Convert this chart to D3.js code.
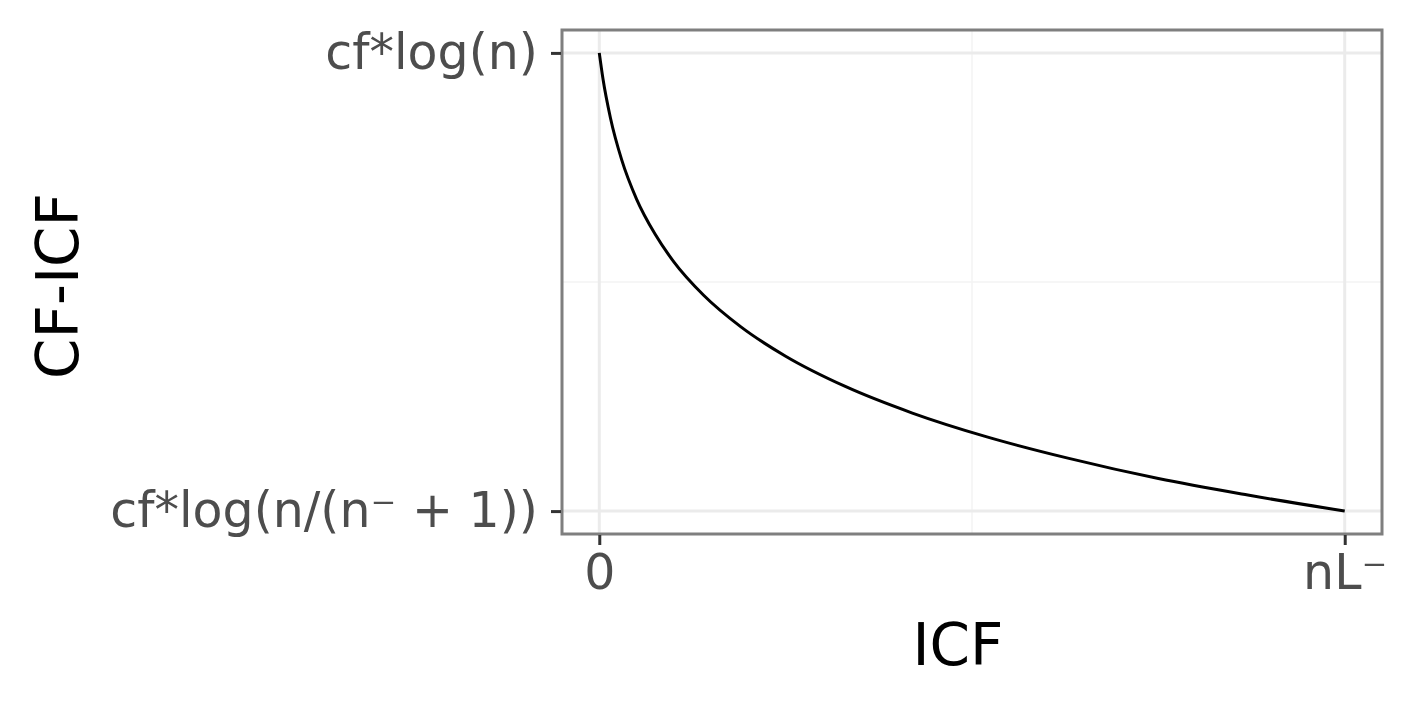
<!DOCTYPE html>
<html>
<head>
<meta charset="utf-8">
<script src="https://cdn.jsdelivr.net/npm/d3@7"></script>
<style>
  body { margin: 0; background: #fff; }
  text { font-family: "DejaVu Sans", sans-serif; }
</style>
</head>
<body>
<div id="chart"></div>
<script>
// curve: icf (0 .. nL-, scaled 0..1), cf-icf (0 = bottom tick, 1 = top tick)
var icf =   [0, 0.005, 0.015, 0.03, 0.05, 0.075, 0.1, 0.14, 0.19, 0.25, 0.33, 0.42, 0.52, 0.63, 0.75, 0.87, 1.0];
var cficf = [1, 0.943, 0.858, 0.767, 0.681, 0.604, 0.544, 0.471, 0.402, 0.338, 0.272, 0.214, 0.162, 0.115, 0.071, 0.035, 0];

var xTickVals = [0, 1];
var xTickLabels = ['0', 'nL\u207B'];
var yTickVals = [0, 1];
var yTickLabels = ['cf*log(n/(n\u207B + 1))', 'cf*log(n)'];
var xMinor = [0.5];
var yMinor = [0.5];

var W = 1418, H = 708;
// panel edges (note: "top" is taken by window.top)
var pLeft = 562, pRight = 1382, pTop = 30, pBottom = 534;

var svg = d3.select('#chart').append('svg')
  .attr('width', W)
  .attr('height', H);

// 5% expansion like ggplot
var x = d3.scaleLinear().domain([-0.05, 1.05]).range([pLeft, pRight]);
var y = d3.scaleLinear().domain([-0.05, 1.05]).range([pBottom, pTop]);

var panel = svg.append('g');

// minor grid
panel.selectAll('.minor-x').data(xMinor).enter().append('line')
  .attr('x1', d => x(d)).attr('x2', d => x(d))
  .attr('y1', pTop).attr('y2', pBottom)
  .attr('stroke', '#f3f3f3').attr('stroke-width', 1.5);
panel.selectAll('.minor-y').data(yMinor).enter().append('line')
  .attr('y1', d => y(d)).attr('y2', d => y(d))
  .attr('x1', pLeft).attr('x2', pRight)
  .attr('stroke', '#f3f3f3').attr('stroke-width', 1.5);

// major grid
panel.selectAll('.major-x').data(xTickVals).enter().append('line')
  .attr('x1', d => x(d)).attr('x2', d => x(d))
  .attr('y1', pTop).attr('y2', pBottom)
  .attr('stroke', '#ebebeb').attr('stroke-width', 3);
panel.selectAll('.major-y').data(yTickVals).enter().append('line')
  .attr('y1', d => y(d)).attr('y2', d => y(d))
  .attr('x1', pLeft).attr('x2', pRight)
  .attr('stroke', '#ebebeb').attr('stroke-width', 3);

// the curve
var line = d3.line()
  .x(function(d, i) { return x(icf[i]); })
  .y(function(d) { return y(d); })
  .curve(d3.curveMonotoneX);
panel.append('path')
  .datum(cficf)
  .attr('d', line)
  .attr('fill', 'none')
  .attr('stroke', '#000')
  .attr('stroke-width', 3);

// panel border
svg.append('rect')
  .attr('x', pLeft).attr('y', pTop)
  .attr('width', pRight - pLeft).attr('height', pBottom - pTop)
  .attr('fill', 'none')
  .attr('stroke', '#7f7f7f')
  .attr('stroke-width', 3);

// axes
var xAxis = d3.axisBottom(x)
  .tickValues(xTickVals)
  .tickSizeInner(10).tickSizeOuter(0).tickPadding(9)
  .tickFormat(function(d, i) { return xTickLabels[i]; });
var gx = svg.append('g')
  .attr('transform', 'translate(0,' + (pBottom + 1) + ')')
  .call(xAxis);

var yAxis = d3.axisLeft(y)
  .tickValues(yTickVals)
  .tickSizeInner(10).tickSizeOuter(0).tickPadding(13)
  .tickFormat(function(d, i) { return yTickLabels[i]; });
var gy = svg.append('g')
  .attr('transform', 'translate(' + (pLeft - 1) + ',0)')
  .call(yAxis);

[gx, gy].forEach(function(g) {
  g.select('.domain').remove();
  g.selectAll('.tick line').attr('stroke', '#333').attr('stroke-width', 3);
  g.selectAll('.tick text')
    .attr('fill', '#4d4d4d')
    .style('font-family', '"DejaVu Sans", sans-serif')
    .style('font-size', '49px');
});

// axis titles
svg.append('text')
  .attr('x', 958).attr('y', 665)
  .attr('text-anchor', 'middle')
  .attr('fill', '#000')
  .style('font-size', '58px')
  .text('ICF');

svg.append('text')
  .attr('transform', 'translate(78,286) rotate(-90)')
  .attr('text-anchor', 'middle')
  .attr('fill', '#000')
  .style('font-size', '58px')
  .text('CF-ICF');
</script>
</body>
</html>
